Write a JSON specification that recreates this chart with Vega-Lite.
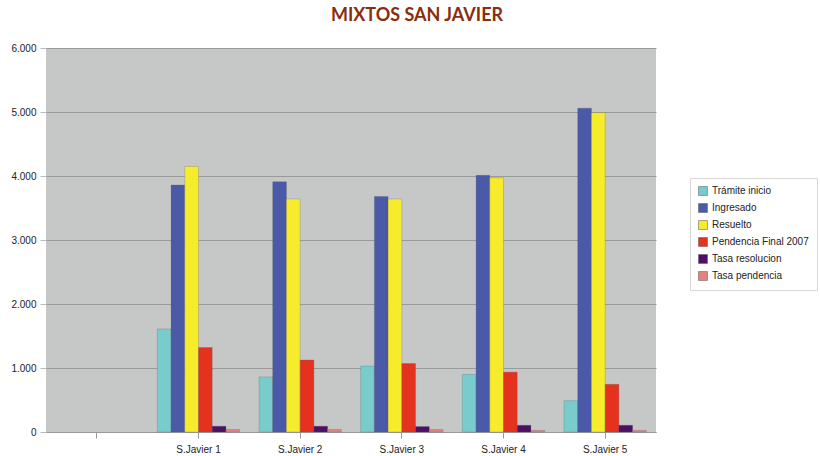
{
  "$schema": "https://vega.github.io/schema/vega-lite/v6.json",
  "autosize": "none",
  "width": 610,
  "height": 384,
  "padding": {"left": 46, "top": 48, "right": 164, "bottom": 24},
  "background": "white",
  "title": {
    "text": "MIXTOS SAN JAVIER",
    "font": "Lato",
    "fontSize": 18,
    "fontWeight": "bold",
    "color": "#8a2d0c",
    "anchor": "middle",
    "frame": "group",
    "dx": 66,
    "offset": 18
  },
  "config": {
    "view": {"fill": "#c6c8c7", "stroke": null},
    "axis": {"labelFont": "Liberation Sans", "labelFontSize": 10, "labelColor": "#222"}
  },
  "data": {
    "values": [
      {"sede": "S.Javier 1", "serie": "Trámite inicio", "valor": 1610},
      {"sede": "S.Javier 1", "serie": "Ingresado", "valor": 3860},
      {"sede": "S.Javier 1", "serie": "Resuelto", "valor": 4150},
      {"sede": "S.Javier 1", "serie": "Pendencia Final 2007", "valor": 1320},
      {"sede": "S.Javier 1", "serie": "Tasa resolucion", "valor": 90},
      {"sede": "S.Javier 1", "serie": "Tasa pendencia", "valor": 40},
      {"sede": "S.Javier 2", "serie": "Trámite inicio", "valor": 860},
      {"sede": "S.Javier 2", "serie": "Ingresado", "valor": 3910},
      {"sede": "S.Javier 2", "serie": "Resuelto", "valor": 3640},
      {"sede": "S.Javier 2", "serie": "Pendencia Final 2007", "valor": 1125},
      {"sede": "S.Javier 2", "serie": "Tasa resolucion", "valor": 90},
      {"sede": "S.Javier 2", "serie": "Tasa pendencia", "valor": 40},
      {"sede": "S.Javier 3", "serie": "Trámite inicio", "valor": 1030},
      {"sede": "S.Javier 3", "serie": "Ingresado", "valor": 3680},
      {"sede": "S.Javier 3", "serie": "Resuelto", "valor": 3640},
      {"sede": "S.Javier 3", "serie": "Pendencia Final 2007", "valor": 1070},
      {"sede": "S.Javier 3", "serie": "Tasa resolucion", "valor": 85},
      {"sede": "S.Javier 3", "serie": "Tasa pendencia", "valor": 40},
      {"sede": "S.Javier 4", "serie": "Trámite inicio", "valor": 900},
      {"sede": "S.Javier 4", "serie": "Ingresado", "valor": 4010},
      {"sede": "S.Javier 4", "serie": "Resuelto", "valor": 3970},
      {"sede": "S.Javier 4", "serie": "Pendencia Final 2007", "valor": 935},
      {"sede": "S.Javier 4", "serie": "Tasa resolucion", "valor": 105},
      {"sede": "S.Javier 4", "serie": "Tasa pendencia", "valor": 25},
      {"sede": "S.Javier 5", "serie": "Trámite inicio", "valor": 490},
      {"sede": "S.Javier 5", "serie": "Ingresado", "valor": 5060},
      {"sede": "S.Javier 5", "serie": "Resuelto", "valor": 4990},
      {"sede": "S.Javier 5", "serie": "Pendencia Final 2007", "valor": 745},
      {"sede": "S.Javier 5", "serie": "Tasa resolucion", "valor": 105},
      {"sede": "S.Javier 5", "serie": "Tasa pendencia", "valor": 25}
    ]
  },
  "mark": {"type": "bar", "stroke": "#555", "strokeWidth": 0.4, "strokeOpacity": 0.6},
  "encoding": {
    "x": {
      "field": "sede",
      "type": "nominal",
      "scale": {
        "domain": [" ", "S.Javier 1", "S.Javier 2", "S.Javier 3", "S.Javier 4", "S.Javier 5"],
        "paddingInner": 0.19,
        "paddingOuter": 0.095
      },
      "axis": {
        "title": null,
        "labelAngle": 0,
        "labelPadding": 6,
        "domainColor": "#999",
        "tickColor": "#999",
        "tickSize": 6,
        "tickBand": "center",
        "grid": false
      }
    },
    "xOffset": {
      "field": "serie",
      "type": "nominal",
      "sort": ["Trámite inicio", "Ingresado", "Resuelto", "Pendencia Final 2007", "Tasa resolucion", "Tasa pendencia"],
      "scale": {"paddingInner": 0, "paddingOuter": 0}
    },
    "y": {
      "field": "valor",
      "type": "quantitative",
      "scale": {"domain": [0, 6000], "nice": false},
      "axis": {
        "title": null,
        "values": [0, 1000, 2000, 3000, 4000, 5000, 6000],
        "labelExpr": "replace(format(datum.value, ','), ',', '.')",
        "gridColor": "#9a9a9a",
        "gridWidth": 1,
        "domain": false,
        "tickColor": "#bbb",
        "tickSize": 6,
        "labelPadding": 4
      }
    },
    "color": {
      "field": "serie",
      "type": "nominal",
      "sort": ["Trámite inicio", "Ingresado", "Resuelto", "Pendencia Final 2007", "Tasa resolucion", "Tasa pendencia"],
      "scale": {
        "domain": ["Trámite inicio", "Ingresado", "Resuelto", "Pendencia Final 2007", "Tasa resolucion", "Tasa pendencia"],
        "range": ["#78cccc", "#4a5aa8", "#f7ec2c", "#e5321f", "#4e1066", "#e88080"]
      },
      "legend": {
        "title": null,
        "orient": "none",
        "legendX": 644,
        "legendY": 130,
        "symbolType": "square",
        "symbolSize": 80,
        "symbolStrokeWidth": 0.5,
        "labelFont": "Liberation Sans",
        "labelFontSize": 10,
        "labelColor": "#222",
        "rowPadding": 5,
        "padding": 8,
        "strokeColor": "#d8d8d8",
        "fillColor": "white"
      }
    }
  }
}
